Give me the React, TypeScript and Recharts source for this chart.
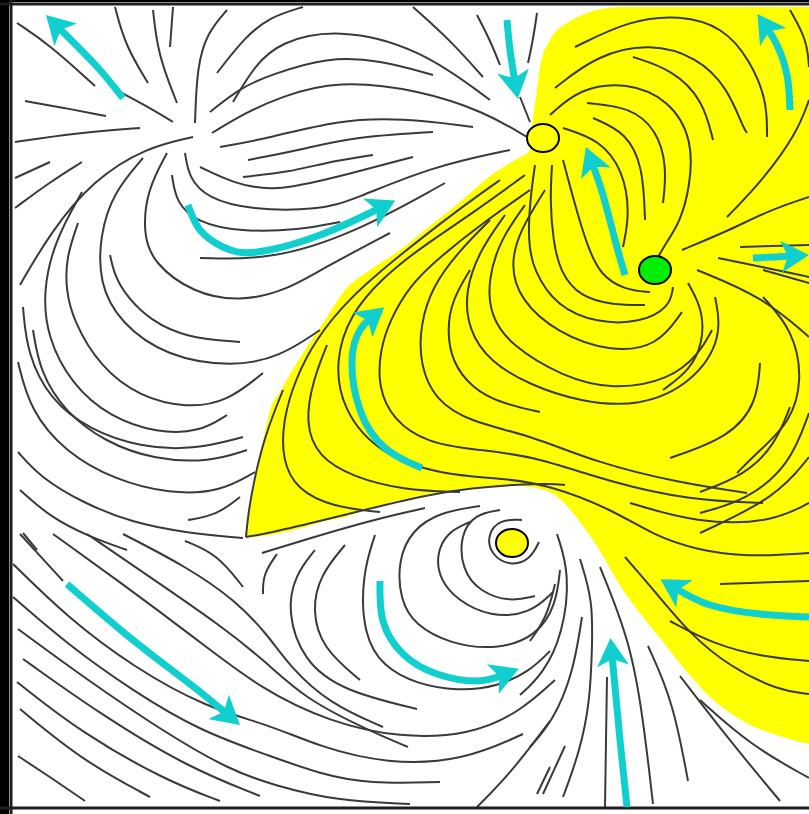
import { Area, ComposedChart, Line, ReferenceArea, ReferenceLine, Scatter, XAxis, YAxis } from 'recharts'

type Pt = [number, number]

// picture coordinates: x to the right, y downward (y axis reversed)
const yellowX = [245, 248, 253, 262, 270, 280, 290, 305, 325, 345, 370, 400, 430, 460, 490, 515, 530, 533, 537, 540, 550, 567, 580, 597, 623, 640, 660, 683, 710, 743, 783, 809]
const yellowTop = [538, 515, 487, 447, 410, 392, 374, 350, 320, 290, 270, 250, 226, 202, 176, 160, 150, 118, 90, 67, 40, 23, 16, 10, 7, 7, 7, 7, 7, 7, 7, 7]
const yellowBottom = [538, 537, 537, 536, 535, 533, 531, 527, 521, 517, 508, 500, 494, 489, 486, 485, 487, 487, 488, 489, 492, 506, 522, 546, 590, 613, 638, 667, 697, 721, 737, 744]

const topLeftLines: Pt[][] = [
  [[17, 23], [50, 45], [95, 86]],
  [[25, 101], [65, 108], [106, 116]],
  [[15, 142], [75, 133], [140, 128]],
  [[115, 7], [125, 45], [148, 83]],
  [[153, 10], [158, 55], [177, 103]],
  [[173, 7], [170, 47]],
  [[227, 10], [207, 33], [197, 67], [195, 123]],
  [[303, 7], [270, 17], [245, 37], [217, 73]],
  [[120, 92], [150, 108], [173, 122]],
  [[15, 178], [50, 162]],
  [[15, 208], [50, 182], [82, 162]],
  [[193, 137], [147, 147], [93, 180], [50, 233], [20, 285]],
]

const saddleFanLines: Pt[][] = [
  [[233, 102], [255, 65], [280, 42], [337, 28], [420, 48], [490, 100]],
  [[210, 112], [240, 88], [270, 75], [327, 57], [380, 60], [433, 75]],
  [[212, 133], [245, 113], [280, 97], [337, 80], [420, 90], [485, 112], [527, 137]],
  [[220, 147], [270, 138], [337, 120], [403, 118], [473, 127]],
  [[248, 160], [300, 150], [353, 137], [433, 132]],
  [[243, 177], [290, 172], [323, 163], [373, 155]],
  [[200, 167], [233, 183], [273, 192], [337, 177], [413, 157]],
  [[185, 153], [189, 178], [207, 198], [250, 210], [320, 210], [353, 200], [430, 167], [510, 150]],
  [[172, 175], [176, 202], [196, 222], [240, 232], [300, 230], [340, 222]],
  [[200, 258], [270, 260], [353, 234], [445, 183]],
  [[413, 7], [450, 40], [483, 77]],
  [[477, 15], [490, 40], [500, 65]],
  [[537, 13], [533, 40], [528, 63]],
  [[520, 97], [530, 122]],
]

const leftArcLines: Pt[][] = [
  [[110, 255], [115, 277], [128, 298], [150, 320], [187, 338], [240, 342]],
  [[143, 158], [113, 193], [100, 235], [99, 283], [120, 323], [167, 357], [233, 367], [280, 357], [320, 330]],
  [[167, 153], [147, 190], [143, 233], [153, 263], [193, 293], [240, 302], [287, 290], [320, 270], [390, 233]],
  [[78, 223], [66, 258], [66, 290], [73, 320], [100, 367], [140, 397], [187, 408], [227, 402], [263, 373]],
  [[82, 192], [55, 240], [43, 290], [47, 337], [72, 385], [110, 417], [157, 433], [200, 432], [227, 415]],
  [[23, 307], [27, 353], [50, 400], [90, 430], [140, 447], [193, 450], [243, 437]],
  [[33, 330], [40, 372], [65, 412], [105, 442], [155, 460], [210, 462], [247, 450]],
  [[18, 362], [30, 410], [65, 452], [115, 480], [170, 494], [220, 492], [255, 472]],
  [[18, 452], [40, 477], [83, 503], [133, 523], [187, 533], [243, 538]],
  [[188, 520], [217, 515], [240, 497]],
  [[20, 490], [50, 517], [90, 537], [127, 550]],
  [[23, 533], [37, 550]],
]

const yellowLines: Pt[][] = [
  [[283, 390], [265, 435], [254, 480], [248, 515], [246, 537]],
  [[246, 537], [270, 533], [337, 517], [403, 500], [470, 487], [550, 483], [565, 485]],
  [[500, 180], [455, 212], [400, 255], [350, 297], [315, 340], [295, 380], [283, 420], [282, 460], [297, 490], [333, 507], [380, 512]],
  [[525, 175], [470, 215], [420, 248], [380, 280], [350, 315], [335, 360], [342, 410], [380, 455], [443, 475], [500, 478], [550, 485], [613, 510], [653, 535], [697, 550], [747, 557], [809, 553]],
  [[327, 345], [313, 380], [305, 423], [318, 457], [353, 477], [403, 490], [460, 492]],
  [[530, 190], [480, 225], [440, 257], [410, 285], [390, 320], [380, 350], [378, 387], [393, 420], [427, 443], [477, 450], [530, 455], [613, 483], [690, 500], [763, 503]],
  [[490, 220], [460, 250], [433, 285], [420, 325], [420, 365], [435, 400], [470, 422], [530, 435], [597, 463], [680, 483], [747, 493]],
  [[470, 270], [452, 300], [447, 330], [452, 362], [472, 388], [500, 403], [540, 412]],
  [[505, 215], [480, 250], [465, 290], [468, 330], [490, 362], [530, 385], [580, 402], [640, 407], [693, 383], [723, 337], [715, 297]],
  [[525, 205], [500, 240], [488, 280], [490, 315], [510, 345], [563, 377], [613, 390], [670, 380], [700, 353], [712, 330]],
  [[545, 190], [520, 230], [510, 265], [520, 300], [557, 333], [610, 352], [657, 347], [682, 312]],
  [[535, 165], [530, 200], [528, 240], [533, 270], [557, 307], [597, 323], [640, 323], [670, 307], [673, 287]],
  [[552, 165], [550, 200], [553, 240], [560, 272], [580, 297], [613, 305], [645, 305]],
  [[563, 160], [575, 205], [587, 245], [600, 275], [625, 290], [650, 292]],
  [[575, 47], [630, 20], [680, 15], [723, 27], [750, 60], [767, 100], [767, 137]],
  [[555, 88], [597, 55], [650, 43], [697, 57], [727, 87], [743, 127], [747, 133]],
  [[633, 57], [673, 70], [703, 100], [713, 140]],
  [[550, 115], [580, 88], [627, 82], [670, 100], [693, 140], [690, 187], [680, 222], [668, 240], [658, 257]],
  [[587, 103], [630, 107], [657, 130], [667, 167], [663, 203]],
  [[593, 118], [627, 133], [643, 167], [645, 220]],
  [[563, 128], [600, 140], [623, 170], [630, 213], [623, 247]],
  [[790, 10], [807, 40], [809, 67]],
  [[809, 100], [797, 133], [763, 180], [727, 217]],
  [[809, 197], [770, 210], [730, 230], [682, 250]],
  [[740, 247], [809, 245]],
  [[718, 258], [763, 267], [809, 277]],
  [[697, 270], [763, 297], [809, 337]],
  [[763, 270], [809, 283]],
  [[688, 283], [703, 310], [703, 343], [690, 370], [663, 390]],
  [[763, 297], [793, 330], [803, 380], [790, 423], [760, 450], [737, 473]],
  [[760, 363], [757, 403], [730, 437], [670, 458]],
  [[790, 407], [775, 445], [745, 475], [700, 492]],
  [[809, 413], [790, 465], [747, 500], [700, 513]],
  [[809, 457], [777, 497], [700, 533]],
  [[630, 503], [697, 523], [770, 523], [809, 503]],
  [[625, 557], [657, 594], [690, 634], [730, 667], [780, 691], [809, 694]],
  [[670, 621], [713, 644], [763, 657], [809, 661]],
  [[720, 584], [809, 581]],
]

const spiralLines: Pt[][] = [
  [[522, 520], [500, 519], [487, 535], [491, 555], [510, 566], [530, 560], [539, 542]],
  [[500, 510], [475, 514], [460, 535], [462, 570], [480, 592], [510, 602], [535, 596]],
  [[470, 522], [447, 532], [436, 555], [440, 580], [457, 600], [490, 617], [530, 614], [553, 592]],
  [[480, 506], [440, 512], [412, 530], [398, 560], [400, 600], [415, 625], [450, 644], [497, 650], [537, 636], [556, 605], [560, 570]],
  [[375, 535], [362, 575], [363, 634], [383, 667], [417, 684], [457, 691], [497, 687], [530, 671], [550, 651]],
  [[345, 545], [320, 575], [312, 610], [322, 648], [360, 680]],
  [[315, 550], [295, 575], [287, 611], [303, 661], [343, 691], [417, 709]],
  [[262, 553], [320, 535], [380, 518], [425, 508]],
  [[557, 534], [570, 574], [563, 634], [543, 674], [520, 695]],
  [[555, 584], [547, 617], [530, 641]],
  [[582, 617], [573, 674], [553, 721], [530, 747]],
  [[550, 721], [510, 774], [477, 807]],
  [[550, 767], [537, 794]],
]

const diagonalLines: Pt[][] = [
  [[20, 534], [42, 558], [63, 581]],
  [[123, 534], [187, 567], [235, 600], [268, 635], [290, 667], [330, 704], [383, 727]],
  [[87, 534], [150, 577], [220, 625], [265, 661], [305, 699], [370, 731], [408, 747]],
  [[53, 534], [120, 582], [195, 638], [262, 690], [330, 722], [400, 738], [470, 735], [520, 712], [555, 680]],
  [[13, 564], [67, 617], [133, 667], [207, 708], [270, 725], [320, 747], [387, 764], [463, 761], [523, 734]],
  [[13, 597], [67, 644], [133, 691], [200, 731], [270, 756], [320, 774], [370, 784], [440, 782]],
  [[18, 629], [83, 677], [167, 734], [230, 770], [273, 785], [337, 801], [410, 804]],
  [[23, 659], [100, 714], [187, 767], [260, 796]],
  [[17, 682], [83, 734], [167, 781], [220, 801]],
  [[20, 709], [83, 761], [150, 797]],
  [[18, 756], [50, 777], [85, 801]],
  [[185, 541], [217, 554], [243, 587]],
  [[277, 554], [263, 574], [263, 594]],
]

const bottomRightLines: Pt[][] = [
  [[580, 559], [593, 601], [592, 650], [590, 701], [580, 751], [563, 797]],
  [[565, 746], [543, 794]],
  [[607, 677], [606, 740], [605, 807]],
  [[600, 567], [630, 641], [643, 717], [653, 804]],
  [[648, 646], [673, 701], [688, 781]],
  [[680, 676], [730, 741], [780, 801]],
  [[700, 700], [750, 745], [809, 778]],
]

const cyanArrows: Pt[][] = [
  [[123, 98], [100, 70], [78, 47], [58, 27]],
  [[507, 20], [510, 50], [515, 82]],
  [[188, 205], [200, 230], [223, 247], [257, 252], [320, 235], [380, 208]],
  [[790, 110], [787, 75], [777, 45], [767, 28]],
  [[625, 275], [615, 240], [603, 195], [592, 163]],
  [[753, 258], [775, 257], [792, 256]],
  [[422, 468], [385, 448], [360, 410], [352, 360], [360, 330], [371, 318]],
  [[67, 584], [133, 640], [190, 684], [227, 714]],
  [[380, 581], [383, 621], [403, 654], [437, 674], [477, 681], [503, 675]],
  [[627, 807], [620, 740], [612, 655]],
  [[809, 617], [760, 614], [710, 605], [675, 588]],
]

const nodeX = [543, 655, 512]
const nodeY = [138, 270, 543]
const nodeFill = ['#ffff00', '#00ee00', '#ffff00']

const CYAN = '#12cfcf'
const INK = '#3a3a3a'

const yellowRows = yellowX.map((x, i) => ({ x, band: [yellowTop[i], yellowBottom[i]] }))
const nodeRows = nodeX.map((x, i) => ({ x, y: nodeY[i], fill: nodeFill[i] }))
const toRows = (pts: Pt[]) => pts.map(([x, y]) => ({ x, y }))

const streamlines = [
  ...topLeftLines,
  ...saddleFanLines,
  ...leftArcLines,
  ...yellowLines,
  ...spiralLines,
  ...diagonalLines,
  ...bottomRightLines,
]

function NodeShape(props: any) {
  const { cx, cy, payload } = props
  return <ellipse cx={cx} cy={cy} rx={16} ry={14} fill={payload.fill} stroke="#000" strokeWidth={2} />
}

export default function App() {
  return (
    <div style={{ position: 'absolute', left: 0, top: 0, width: 809, height: 814, background: '#fff', overflow: 'hidden' }}>
      <ComposedChart width={809} height={814} data={yellowRows} margin={{ top: 0, right: 0, bottom: 0, left: 0 }}>
        <defs>
          <marker
            id="cyanHead"
            viewBox="0 0 28 32"
            refX={11}
            refY={16}
            markerWidth={28}
            markerHeight={32}
            markerUnits="userSpaceOnUse"
            orient="auto"
          >
            <path d="M0,0 L28,16 L0,32 L7,16 Z" fill={CYAN} />
          </marker>
        </defs>
        <XAxis type="number" dataKey="x" domain={[0, 809]} allowDataOverflow hide />
        <YAxis type="number" dataKey="y" domain={[0, 814]} reversed allowDataOverflow hide />
        <ReferenceArea x1={0} x2={9} y1={0} y2={814} fill="#000" fillOpacity={1} stroke="none" />
        <ReferenceArea x1={0} x2={809} y1={0} y2={2} fill="#000" fillOpacity={1} stroke="none" />
        <Area dataKey="band" type="monotone" fill="#ffff00" fillOpacity={1} stroke="none" isAnimationActive={false} />
        {streamlines.map((s, i) => (
          <Line
            key={`s${i}`}
            data={toRows(s)}
            dataKey="y"
            type="basis"
            stroke={INK}
            strokeWidth={2}
            dot={false}
            activeDot={false}
            isAnimationActive={false}
          />
        ))}
        <ReferenceLine x={11} stroke="#1e1e1e" strokeWidth={3} />
        <ReferenceLine y={4} stroke="#1e1e1e" strokeWidth={3} />
        <ReferenceLine y={808} stroke="#1e1e1e" strokeWidth={3} />
        {cyanArrows.map((s, i) => (
          <Line
            key={`c${i}`}
            data={toRows(s)}
            dataKey="y"
            type="natural"
            stroke={CYAN}
            strokeWidth={7}
            dot={false}
            activeDot={false}
            markerEnd="url(#cyanHead)"
            isAnimationActive={false}
          />
        ))}
        <Scatter data={nodeRows} shape={NodeShape} isAnimationActive={false} />
      </ComposedChart>
    </div>
  )
}
